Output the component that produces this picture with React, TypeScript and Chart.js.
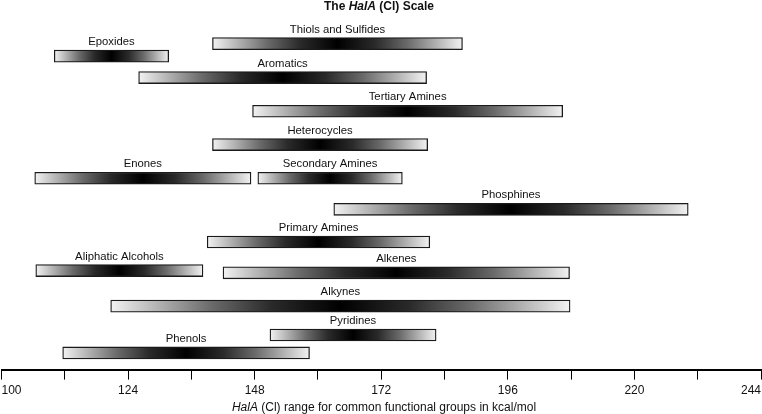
import React, { useEffect, useRef } from "react";
import { Chart, registerables } from "chart.js";

Chart.register(...registerables);

const groups = [
  "Thiols and Sulfides",
  "Epoxides",
  "Aromatics",
  "Tertiary Amines",
  "Heterocycles",
  "Enones",
  "Secondary Amines",
  "Phosphines",
  "Primary Amines",
  "Aliphatic Alcohols",
  "Alkenes",
  "Alkynes",
  "Pyridines",
  "Phenols",
];
const lows = [140, 110, 126, 147.6, 140, 106.3, 148.6, 163, 139, 106.5, 142, 120.7, 150.9, 111.6];
const highs = [187.4, 131.7, 180.6, 206.4, 180.8, 147.3, 176, 230.2, 181.2, 138.2, 207.7, 207.8, 182.4, 158.4];
const rows = [10.17, 9.78, 9.11, 8.06, 7.02, 5.97, 5.97, 5.0, 3.98, 3.09, 3.02, 1.98, 1.08, 0.52];

const xMin = 100;
const xMax = 244;
const xStep = 12;
const labelEvery = 24;

const FONT = "'Liberation Sans', Arial, Helvetica, sans-serif";

function drawMixed(ctx: CanvasRenderingContext2D, parts: { t: string; f: string }[], cx: number, y: number) {
  let total = 0;
  for (const p of parts) {
    ctx.font = p.f;
    total += ctx.measureText(p.t).width;
  }
  let x = cx - total / 2;
  ctx.textAlign = "left";
  for (const p of parts) {
    ctx.font = p.f;
    ctx.fillText(p.t, x, y);
    x += ctx.measureText(p.t).width;
  }
}

const textPlugin = {
  id: "halaText",
  afterDatasetsDraw(chart: any) {
    const ctx = chart.ctx as CanvasRenderingContext2D;
    ctx.save();
    ctx.fillStyle = "#111";
    ctx.textBaseline = "alphabetic";
    ctx.textAlign = "center";
    ctx.font = `11.3px ${FONT}`;
    const meta = chart.getDatasetMeta(0);
    meta.data.forEach((bar: any, i: number) => {
      const p = bar.getProps(["x", "base", "y", "height"], true);
      const cx = (p.x + p.base) / 2;
      ctx.fillText(groups[i], cx, p.y - p.height / 2 - 5);
    });
    const cx = chart.width / 2;
    ctx.textBaseline = "middle";
    drawMixed(
      ctx,
      [
        { t: "The ", f: `bold 12px ${FONT}` },
        { t: "HalA", f: `italic bold 12px ${FONT}` },
        { t: " (Cl) Scale", f: `bold 12px ${FONT}` },
      ],
      cx - 2,
      7
    );
    drawMixed(
      ctx,
      [
        { t: "HalA", f: `italic 12px ${FONT}` },
        { t: " (Cl) range for common functional groups in kcal/mol", f: `12px ${FONT}` },
      ],
      cx + 3,
      408
    );
    ctx.restore();
  },
};

export default function App() {
  const ref = useRef<HTMLCanvasElement | null>(null);
  useEffect(() => {
    document.body.style.margin = "0";
    const canvas = ref.current!;
    const chart = new Chart(canvas, {
      type: "bar",
      data: {
        datasets: [
          {
            data: groups.map((_, i) => ({ x: [lows[i], highs[i]], y: rows[i] })) as any,
            barThickness: 12,
            borderWidth: 1.3,
            borderColor: "#1a1a1a",
            borderSkipped: false,
            backgroundColor: (c: any) => {
              const chartRef = c.chart;
              const xs = chartRef.scales?.x;
              if (c.type !== "data" || !xs) return "#777";
              const i = c.dataIndex;
              const x0 = xs.getPixelForValue(lows[i]);
              const x1 = xs.getPixelForValue(highs[i]);
              if (!isFinite(x0) || !isFinite(x1) || x0 === x1) return "#777";
              const g = chartRef.ctx.createLinearGradient(x0, 0, x1, 0);
              const stops: [number, string][] = [
                [0, "#f2f2f2"],
                [0.1, "#b4b4b4"],
                [0.22, "#6a6a6a"],
                [0.35, "#2a2a2a"],
                [0.5, "#000000"],
                [0.65, "#2a2a2a"],
                [0.78, "#6a6a6a"],
                [0.9, "#b4b4b4"],
                [1, "#f2f2f2"],
              ];
              stops.forEach(([o, col]) => g.addColorStop(o, col));
              return g;
            },
          },
        ],
      },
      options: {
        indexAxis: "y",
        animation: false,
        responsive: false,
        maintainAspectRatio: false,
        layout: { padding: { top: 17, left: 0, right: 0, bottom: 12 } },
        plugins: {
          legend: { display: false },
          tooltip: { enabled: false },
          title: { display: false },
        },
        scales: {
          x: {
            type: "linear",
            position: "bottom",
            min: xMin,
            max: xMax,
            afterFit: (scale: any) => {
              scale.paddingLeft = 1.5;
              scale.paddingRight = 1;
            },
            grid: {
              drawOnChartArea: false,
              drawTicks: true,
              tickLength: 10,
              color: "#000",
              lineWidth: 1,
            },
            border: { display: true, color: "#000", width: 2 },
            ticks: {
              stepSize: xStep,
              autoSkip: false,
              maxRotation: 0,
              align: "inner",
              color: "#111",
              padding: 4,
              font: { size: 12, family: FONT },
              callback: (v: any) => ((Number(v) - xMin) % labelEvery === 0 ? String(v) : ""),
            },
          },
          y: {
            type: "linear",
            display: false,
            offset: false,
            min: 0,
            max: 11,
          },
        },
      },
      plugins: [textPlugin],
    } as any);
    return () => chart.destroy();
  }, []);
  return (
    <div style={{ position: "absolute", left: 0, top: 0, width: 762, height: 414 }}>
      <canvas ref={ref} width={762} height={414} style={{ display: "block", width: 762, height: 414 }} />
    </div>
  );
}
